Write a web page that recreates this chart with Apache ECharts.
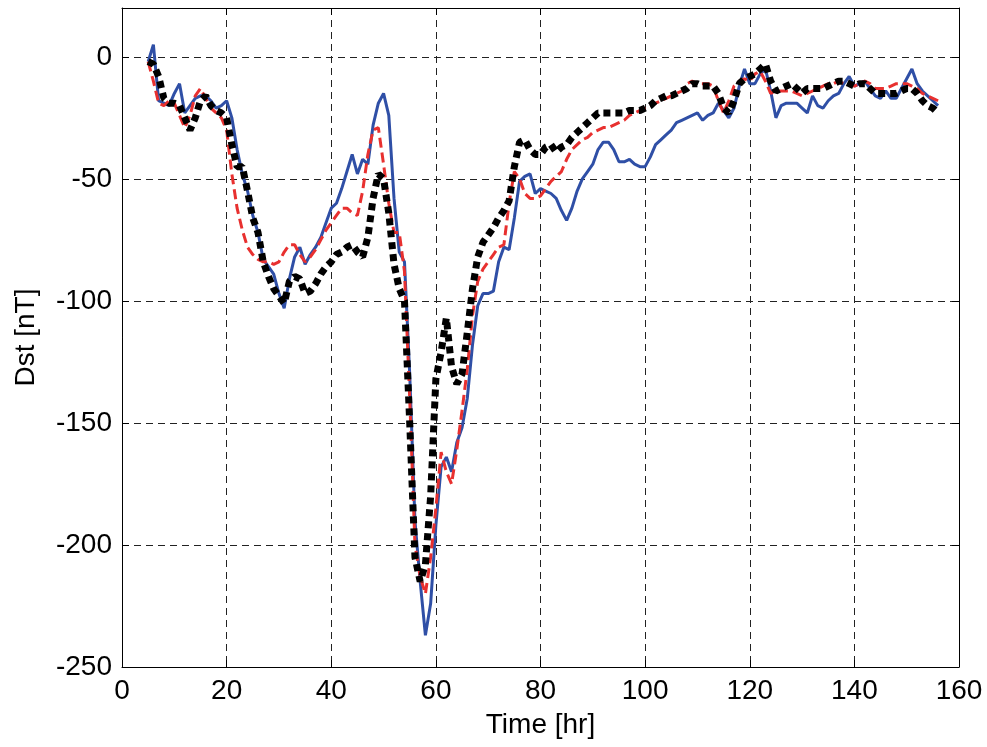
<!DOCTYPE html>
<html>
<head>
<meta charset="utf-8">
<script src="https://cdn.jsdelivr.net/npm/echarts@6/dist/echarts.min.js"></script>
<style>html,body{margin:0;padding:0;background:#fff}#c{width:987px;height:747px}</style>
</head>
<body>
<div id="c"></div>
<script>
const hours = [5,6,7,8,9,10,11,12,13,14,15,16,17,18,19,20,21,22,23,24,25,26,27,28,29,30,31,32,33,34,35,36,37,38,39,40,41,42,43,44,45,46,47,48,49,50,51,52,53,54,55,56,57,58,59,60,61,62,63,64,65,66,67,68,69,70,71,72,73,74,75,76,77,78,79,80,81,82,83,84,85,86,87,88,89,90,91,92,93,94,95,96,97,98,99,100,101,102,103,104,105,106,107,108,109,110,111,112,113,114,115,116,117,118,119,120,121,122,123,124,125,126,127,128,129,130,131,132,133,134,135,136,137,138,139,140,141,142,143,144,145,146,147,148,149,150,151,152,153,154,155,156];

const blueDst = [-2,5,-18,-19,-20,-15,-11,-23,-20,-17,-16,-16,-18,-21,-20,-18,-25,-38,-48,-55,-65,-72,-83,-86,-89,-97,-103,-91,-82,-78,-85,-81,-78,-74,-68,-62,-60,-54,-47,-40,-48,-42,-44,-28,-19,-15,-24,-58,-80,-84,-130,-190,-215,-237,-224,-192,-168,-164,-170,-158,-152,-140,-118,-102,-97,-97,-96,-84,-78,-79,-66,-51,-49,-48,-56,-54,-55,-56,-58,-63,-67,-62,-55,-50,-47,-44,-38,-35,-35,-38,-43,-43,-42,-44,-45,-45,-41,-36,-34,-32,-30,-27,-26,-25,-24,-23,-26,-24,-23,-19,-22,-25,-21,-12,-5,-11,-11,-7,-5,-14,-25,-20,-19,-19,-19,-21,-23,-16,-20,-21,-18,-16,-15,-11,-8,-12,-11,-10,-13,-16,-17,-14,-17,-17,-13,-9,-5,-11,-14,-16,-18,-20];

const redDst = [-2,-10,-19,-20,-18,-19,-24,-29,-24,-16,-13,-17,-21,-23,-25,-30,-48,-62,-71,-78,-81,-83,-84,-84,-85,-84,-80,-77,-77,-81,-84,-82,-79,-75,-71,-68,-65,-62,-62,-64,-65,-55,-40,-30,-29,-44,-60,-72,-72,-88,-140,-200,-213,-220,-205,-185,-162,-170,-175,-161,-145,-128,-106,-92,-87,-84,-81,-78,-77,-60,-47,-50,-56,-58,-58,-57,-54,-51,-49,-47,-42,-38,-36,-34,-33,-31,-30,-29,-29,-28,-27,-26,-24,-23,-22,-21,-20,-19,-18,-17,-16,-15,-14,-11,-10,-11,-11,-11,-12,-18,-23,-18,-12,-10,-9,-10,-7,-6,-10,-15,-14,-14,-14,-14,-15,-16,-15,-14,-13,-12,-11,-11,-10,-11,-11,-12,-11,-10,-11,-13,-13,-13,-12,-11,-11,-11,-12,-13,-15,-16,-17,-18];

const blackDst = [-2,-3,-8,-17,-19,-19,-20,-25,-30,-25,-18,-16,-20,-22,-23,-25,-36,-45,-45,-55,-66,-72,-84,-90,-95,-98,-101,-92,-90,-91,-97,-96,-93,-89,-86,-84,-81,-80,-78,-77,-80,-82,-74,-58,-48,-50,-64,-85,-95,-100,-150,-205,-215,-208,-180,-132,-121,-107,-127,-134,-130,-113,-95,-82,-76,-73,-70,-66,-63,-59,-45,-35,-34,-38,-40,-40,-37,-36,-39,-37,-36,-33,-31,-29,-27,-25,-23,-23,-23,-23,-23,-23,-22,-22,-22,-21,-20,-18,-17,-16,-16,-15,-14,-13,-11,-11,-12,-12,-12,-15,-21,-23,-18,-11,-9,-8,-7,-5,-3,-10,-14,-13,-12,-11,-13,-15,-13,-13,-13,-13,-12,-11,-10,-10,-11,-12,-11,-11,-13,-15,-15,-15,-15,-15,-14,-13,-13,-15,-18,-20,-21,-23];

const xTicks = [0,20,40,60,80,100,120,140,160];
const yTicks = [-250,-200,-150,-100,-50,0];

const pair = (arr) => hours.map((h, i) => [h, arr[i]]);
const FONT = "'Liberation Sans', Arial, Helvetica, sans-serif";

const chart = echarts.init(document.getElementById('c'), null, {renderer: 'canvas'});
const baseX = {
  type: 'value', min: xTicks[0], max: xTicks[xTicks.length-1], interval: 20,
  axisLine: {show: true, onZero: false, lineStyle: {color: '#000', width: 1}},
  axisTick: {show: true, inside: true, length: 7, lineStyle: {color: '#000'}},
};
const baseY = {
  type: 'value', min: yTicks[0], max: 20, interval: 50,
  axisLine: {show: true, onZero: false, lineStyle: {color: '#000', width: 1}},
  axisTick: {show: true, inside: true, length: 7, lineStyle: {color: '#000'}},
};
chart.setOption({
  animation: false,
  backgroundColor: '#fff',
  grid: {left: 122, right: 28, top: 8, bottom: 80, containLabel: false},
  xAxis: [
    Object.assign({}, baseX, {
      position: 'bottom',
      name: 'Time [hr]', nameLocation: 'middle', nameGap: 44,
      nameTextStyle: {fontFamily: FONT, fontSize: 28, color: '#000'},
      axisLabel: {show: true, margin: 10, fontFamily: FONT, fontSize: 28, color: '#000'},
      splitLine: {show: true, lineStyle: {color: '#222', type: [7, 5], width: 1}}
    }),
    Object.assign({}, baseX, {position: 'top', axisLabel: {show: false}, splitLine: {show: false}})
  ],
  yAxis: [
    Object.assign({}, baseY, {
      position: 'left',
      name: 'Dst [nT]', nameLocation: 'middle', nameGap: 82, nameRotate: 90,
      nameTextStyle: {fontFamily: FONT, fontSize: 28, color: '#000'},
      axisLabel: {show: true, margin: 10, fontFamily: FONT, fontSize: 28, color: '#000',
        formatter: v => (yTicks.indexOf(v) >= 0 ? String(v) : '')},
      splitLine: {show: true, lineStyle: {color: '#222', type: [7, 5], width: 1}}
    }),
    Object.assign({}, baseY, {position: 'right', axisLabel: {show: false}, splitLine: {show: false}})
  ],
  series: [
    {type: 'line', name: 'blue', data: pair(blueDst), xAxisIndex: 0, yAxisIndex: 0,
     showSymbol: false, symbol: 'none',
     lineStyle: {color: '#2f4fa6', width: 3, type: 'solid'}, z: 2},
    {type: 'line', name: 'red', data: pair(redDst), xAxisIndex: 0, yAxisIndex: 0,
     showSymbol: false, symbol: 'none',
     lineStyle: {color: '#e8302f', width: 3, type: [10, 5]}, z: 3},
    {type: 'line', name: 'black', data: pair(blackDst), xAxisIndex: 0, yAxisIndex: 0,
     showSymbol: false, symbol: 'none',
     lineStyle: {color: '#000', width: 7, type: [7, 5], cap: 'butt'}, z: 4}
  ]
});
</script>
</body>
</html>
